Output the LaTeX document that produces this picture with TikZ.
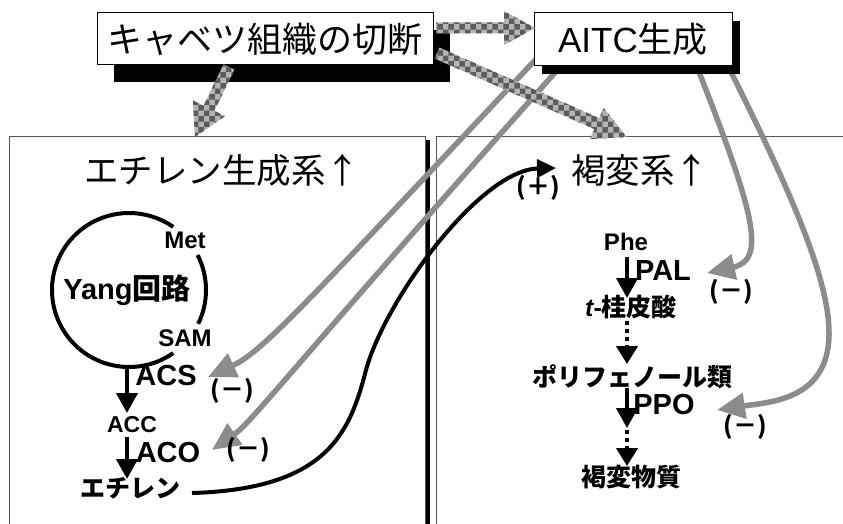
\documentclass[tikz,border=0pt]{standalone}
\usepackage{fontspec}
\setmainfont{Liberation Sans}
\newfontfamily\jp{Noto Sans CJK JP}
\usetikzlibrary{arrows.meta,patterns,calc}
\definecolor{garr}{HTML}{8C8C8C}
\definecolor{chkA}{HTML}{5C5C5C}
\definecolor{chkB}{HTML}{B4B4B4}
\definecolor{panecol}{HTML}{555555}
\newcommand\fsz[1]{\fontsize{#1pt}{#1pt}\selectfont}
\newcommand\fatarrow[5]{%
  \coordinate (fahead) at ($(#2)!#5!(#1)$);
  \path[fatarr] ($(#1)!#3!90:(#2)$) -- ($(fahead)!#3!90:(#2)$) -- ($(fahead)!#4!90:(#2)$) -- (#2) -- ($(fahead)!#4!-90:(#2)$) -- ($(fahead)!#3!-90:(#2)$) -- ($(#1)!#3!-90:(#2)$) -- cycle;}
\begin{document}
\begin{tikzpicture}[x=1pt,y=-1pt,
  boxtxt/.style={draw=black, line width=1pt, fill=white, font=\jp\fsz{35}, inner sep=0pt},
  hdr/.style={font=\jp\fsz{34.5}, inner sep=0pt},
  lat/.style={font=\bfseries\fsz{24}, inner sep=0pt},
  latbig/.style={font=\bfseries\fsz{29}, inner sep=0pt},
  jpl/.style={font=\jp\bfseries\fsz{25}, inner sep=0pt},
  sgn/.style={font=\jp\bfseries\fsz{24}, inner sep=0pt},
  grayarr/.style={draw=garr, line width=5.5pt, -{Triangle[length=28pt,width=25pt]}},
  blkarr/.style={draw=black, line width=4pt, -{Triangle[length=20pt,width=21pt]}},
  dotarr/.style={draw=black, line width=4pt, dash pattern=on 4pt off 4pt, -{Triangle[length=18pt,width=21pt]}},
  fatarr/.style={preaction={fill=chkB}, pattern=checkerboard, pattern color=chkA},
  panelbox/.style={draw=panecol, line width=1pt},
  boxshadow/.style={fill=black}
]
\useasboundingbox (0,0) rectangle (843,524);

% panels
\draw[panelbox] (9,137) rectangle (425,540);
\draw[line width=3.5pt] (428,140) -- (428,540);
\draw[panelbox] (436,137) rectangle (860,540);

% endpoints
\coordinate (g1s) at (539,56);  \coordinate (g1e) at (208,377);
\coordinate (g2s) at (560,67);  \coordinate (g2e) at (212,450);
\coordinate (g3s) at (697,67);  \coordinate (g3e) at (707,273);
\coordinate (g4s) at (729,68);  \coordinate (g4e) at (717,410);

% gray inhibition arrows
\draw[grayarr] (g1s) .. controls (300,310) and (262,352) .. (g1e);
\draw[grayarr] (g2s) .. controls (290,370) and (252,422) .. (g2e);
\draw[grayarr] (g3s) .. controls (756,216) and (766,260) .. (g3e);
\draw[grayarr] (g4s) .. controls (790,190) and (830,280) .. (829,335) .. controls (828,400) and (770,402) .. (g4e);

% top boxes
\fill[boxshadow] (114,30) rectangle (450,82);
\node[boxtxt, minimum width=336pt, minimum height=52pt] (cut) at (265,39) {キャベツ組織の切断};
\fill[boxshadow] (542,21) rectangle (740,74);
\node[boxtxt, minimum width=198pt, minimum height=53pt] (aitc) at (633,39.5) {{\rmfamily AITC}生成};

% fat checkered arrows
\coordinate (f1s) at (229,67);  \coordinate (f1e) at (195,137);
\coordinate (f2s) at (436,28);  \coordinate (f2e) at (535,28);
\coordinate (f3s) at (437,53);  \coordinate (f3e) at (627,137);
\fatarrow{f1s}{f1e}{6pt}{18pt}{32pt}
\fatarrow{f2s}{f2e}{5.5pt}{17pt}{31pt}
\fatarrow{f3s}{f3e}{6pt}{17pt}{33pt}

% headers
\node[hdr] (ehdr) at (222,170) {エチレン生成系↑};
\node[hdr] (bhdr) at (640,170) {褐変系↑};

% left panel content
\draw[line width=4pt] (129,290) ++(-27:77) arc[start angle=-27, end angle=26, radius=77];
\draw[line width=4pt] (129,290) ++(55:77) arc[start angle=55, end angle=305, radius=77];
\node[lat] (met) at (185,240) {Met};
\node[font=\bfseries\fsz{29}, inner sep=0pt] (yang) at (127,290) {Yang{\jp\bfseries 回路}};
\node[lat] (sam) at (185,338) {SAM};
\node[latbig] (acs) at (166,376) {ACS};
\node[sgn] (m1) at (232,391) {(－)};
\node[font=\bfseries\fsz{23}, inner sep=0pt] (acc) at (132,425) {ACC};
\node[latbig] (aco) at (168,453) {ACO};
\node[sgn] (m2) at (248,450) {(－)};
\node[jpl] (eth) at (130,488) {エチレン};

\coordinate (acsA) at (127,369); \coordinate (acsB) at (127,413);
\coordinate (acoA) at (127,437); \coordinate (acoB) at (127,479);
\draw[blkarr] (acsA) -- (acsB);
\draw[blkarr] (acoA) -- (acoB);

% right panel content
\node[lat] (phe) at (626,242) {Phe};
\node[latbig] (pal) at (663,271) {PAL};
\node[jpl] (cin) at (631,307) {{\rmfamily\bfseries\itshape t}{\rmfamily\bfseries -}桂皮酸};
\node[jpl] (poly) at (632,377) {ポリフェノール類};
\node[latbig] (ppo) at (664,405) {PPO};
\node[jpl] (brown) at (631,477) {褐変物質};
\node[sgn] (m3) at (731,292) {(－)};
\node[sgn] (m4) at (745,427) {(－)};
\node[sgn] (plus) at (538,188) {(＋)};

\coordinate (palA) at (627,257); \coordinate (palB) at (627,298);
\coordinate (dotA) at (627,321); \coordinate (dotB) at (627,364);
\coordinate (ppoA) at (627,388); \coordinate (ppoB) at (627,428);
\coordinate (dotC) at (627,430); \coordinate (dotD) at (627,466);
\draw[blkarr] (palA) -- (palB);
\draw[dotarr] (dotA) -- (dotB);
\draw[blkarr] (ppoA) -- (ppoB);
\draw[dotarr] (dotC) -- (dotD);

% ethylene promotes browning
\coordinate (ethS) at (192,493); \coordinate (plusE) at (556,168);
\draw[line width=4pt, -{Triangle[length=19pt,width=18pt]}] (ethS) .. controls (328,489) and (350,432) .. (366,370) .. controls (385,300) and (480,170) .. (plusE);
\end{tikzpicture}
\end{document}
